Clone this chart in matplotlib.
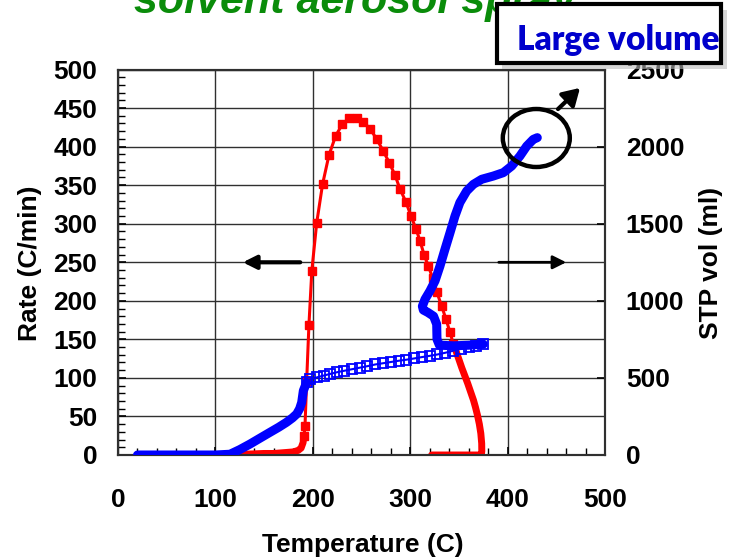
import matplotlib
matplotlib.use("Agg")
import matplotlib.pyplot as plt
from matplotlib.patches import Rectangle, Ellipse, FancyArrowPatch
from matplotlib.ticker import MultipleLocator

# ---------------- data ----------------
# Rate (C/min) vs Temperature (C)  -- left axis
red_T = [120, 130, 140, 150, 160, 170, 180, 185, 188, 190, 191, 192, 193.7, 196,
         199, 204, 210, 216.6, 223.5, 230.3, 237.5, 245, 252, 258.7, 265.6, 272.4,
         278.6, 284.4, 289.5, 295.7, 300.8, 306, 310, 314.2, 318.6, 323, 327.2,
         332.3, 336.8, 340.9, 344.3, 347, 350, 353, 356, 359, 362, 365, 367, 369,
         371, 372.5, 373.4, 373.5, 373, 365, 355, 345, 335, 322]
red_R = [1, 1, 1.5, 2, 2, 3, 4, 6, 9, 16, 25, 38, 96, 168,
         239, 301, 351, 389, 414, 429, 437, 437, 432, 423, 410, 394,
         379, 363, 345, 328, 310, 293, 278, 260, 245, 230, 212,
         193, 176, 159, 144, 135, 124, 113, 103, 93, 82, 71, 62, 52,
         40, 28, 15, 5, 0, 0, 0, 0, 0, 0]

# STP vol (ml) vs Temperature (C) -- right axis
blue_T = [20, 40, 60, 80, 100, 115, 125, 135.5, 146, 156, 165, 173, 179, 183.5,
          186.5, 188.6, 190.3, 193.7, 197, 204, 211, 218, 225, 232, 240, 248,
          256, 264, 272, 280, 288, 296, 304, 312, 320, 328, 336, 344, 352, 360,
          368, 375, 360, 345, 330, 327.5, 327.2, 324, 318, 313.5, 312.5, 315.2,
          320.3, 325.5, 330.6, 335.7, 340.9, 346, 351, 358, 364.8, 373.4, 385.3,
          395.6, 404.2, 412.7, 419.6, 426.4, 430.5]
blue_V = [0, 0, 0, 0, 0, 5, 35, 71, 110, 147, 180, 212, 240, 266,
          300, 341, 417, 471, 490, 503, 515, 526, 537, 546, 556, 566,
          576, 587, 595, 603, 611, 618, 626, 635, 643, 652, 663, 676, 690, 700,
          710, 719, 712, 708, 712, 751, 848, 900, 925, 940, 965, 1010,
          1064, 1129, 1226, 1334, 1442, 1550, 1637, 1712, 1755, 1788, 1809,
          1831, 1874, 1939, 2003, 2047, 2058]

# index ranges where the logger samples are dense (drawn as a solid band)
red_dense = [(0, 11), (40, len(red_T))]
red_sparse = (10, 41)
blue_dense = [(0, 18), (41, len(blue_T))]
blue_sparse = (17, 42)

x_ticks = [0, 100, 200, 300, 400, 500]
left_ticks = list(range(0, 501, 50))
right_ticks = [0, 500, 1000, 1500, 2000, 2500]

# ---------------- figure ----------------
RED = "#ff0000"
BLUE = "#0000ff"
FONT = "Liberation Sans"
plt.rcParams['font.family'] = [FONT, 'DejaVu Sans']

fig = plt.figure(figsize=(7.36, 5.6), dpi=100)
L, R, B, T = 118 / 736, 605 / 736, 1 - 455 / 560, 1 - 69.5 / 560
ax = fig.add_axes([L, B, R - L, T - B])
ax2 = ax.twinx()

ax.set_xlim(0, 500)
ax.set_ylim(0, 500)
ax2.set_ylim(0, 2500)

ax.set_xticks(x_ticks)
ax.set_yticks(left_ticks)
ax2.set_yticks(right_ticks)
ax.xaxis.set_minor_locator(MultipleLocator(20))
ax.yaxis.set_minor_locator(MultipleLocator(10))

ax.grid(True, which='major', color='#303030', lw=1.0)
ax.set_axisbelow(True)

for a in (ax, ax2):
    for s in a.spines.values():
        s.set_color('#303030')
        s.set_linewidth(1.5)

ax.tick_params(which='both', direction='in', top=False, right=False)
ax.tick_params(which='major', length=6, width=1.2, labelsize=19, pad=15)
ax.tick_params(which='minor', length=5, width=1.0)
ax.tick_params(axis='x', which='major', pad=24)
ax2.tick_params(which='major', direction='in', length=6, width=1.2, labelsize=19, pad=15)
for lab in ax.get_xticklabels() + ax.get_yticklabels() + ax2.get_yticklabels():
    lab.set_fontweight('bold')

# red series
s0, s1 = red_sparse
ax.plot(red_T[s0:s1], red_R[s0:s1], color=RED, lw=2.2, marker='s', ms=5.5,
        mfc=RED, mec=RED, zorder=3)
for a0, a1 in red_dense:
    ax.plot(red_T[a0:a1], red_R[a0:a1], color=RED, lw=5, solid_capstyle='round',
            solid_joinstyle='round', zorder=3)

# blue series
b0, b1 = blue_sparse
ax2.plot(blue_T[b0:b1], blue_V[b0:b1], color=BLUE, lw=1.5, marker='s', ms=6.5,
         mfc='none', mec=BLUE, mew=1.3, zorder=4)
for a0, a1 in blue_dense:
    ax2.plot(blue_T[a0:a1], blue_V[a0:a1], color=BLUE, lw=6.5, solid_capstyle='round',
             solid_joinstyle='round', zorder=4)

# axis titles
fig.text(363 / 736, 1 - 545 / 560, "Temperature (C)", ha='center', va='center',
         fontsize=19, fontweight='bold')
fig.text(30 / 736, 1 - 263 / 560, "Rate (C/min)", ha='center', va='center',
         rotation=90, fontsize=19, fontweight='bold')
fig.text(711 / 736, 1 - 263 / 560, "STP vol (ml)", ha='center', va='center',
         rotation=90, fontsize=19, fontweight='bold')

# direction arrows
def px(xp, yp):
    return (xp / 736, 1 - yp / 560)

fig.patches.append(FancyArrowPatch(px(303, 262.3), px(240, 262.3), transform=fig.transFigure,
                                   arrowstyle='-|>,head_length=8,head_width=4',
                                   color='black', lw=3, mutation_scale=1))
fig.patches.append(FancyArrowPatch(px(496, 262.3), px(569, 262.3), transform=fig.transFigure,
                                   arrowstyle='-|>,head_length=8,head_width=4',
                                   color='black', lw=2, mutation_scale=1))

# circle + arrow
fig.patches.append(Ellipse(px(536.3, 138), 67 / 736, 58 / 560, transform=fig.transFigure,
                           fill=False, ec='black', lw=3.2, zorder=10))
fig.patches.append(FancyArrowPatch(px(556, 111), px(582, 86), transform=fig.transFigure,
                                   arrowstyle='-|>,head_length=10,head_width=6',
                                   color='black', lw=3, mutation_scale=1, zorder=10))

# cut-off green title (behind the box)
fig.text(355 / 736, 1 - 13 / 560, "solvent aerosol spray", ha='center', va='baseline',
         fontsize=31, fontweight='bold', style='italic', color='#0a8c0a', zorder=1)

# "Large volume" box with shadow
fig.patches.append(Rectangle(px(502, 69), 225 / 736, 59 / 560, transform=fig.transFigure,
                             fc='#bbbbbb', ec='none', alpha=0.6, zorder=9))
fig.patches.append(Rectangle(px(497, 63), 224 / 736, 59 / 560, transform=fig.transFigure,
                             fc='white', ec='black', lw=3, zorder=10))
fig.text(517 / 736, 1 - 40 / 560, "Large volume", ha='left', va='center',
         fontsize=24, fontweight='heavy', color='#0000cc', family='Lato', zorder=11)

fig.savefig("out.png", dpi=100)
